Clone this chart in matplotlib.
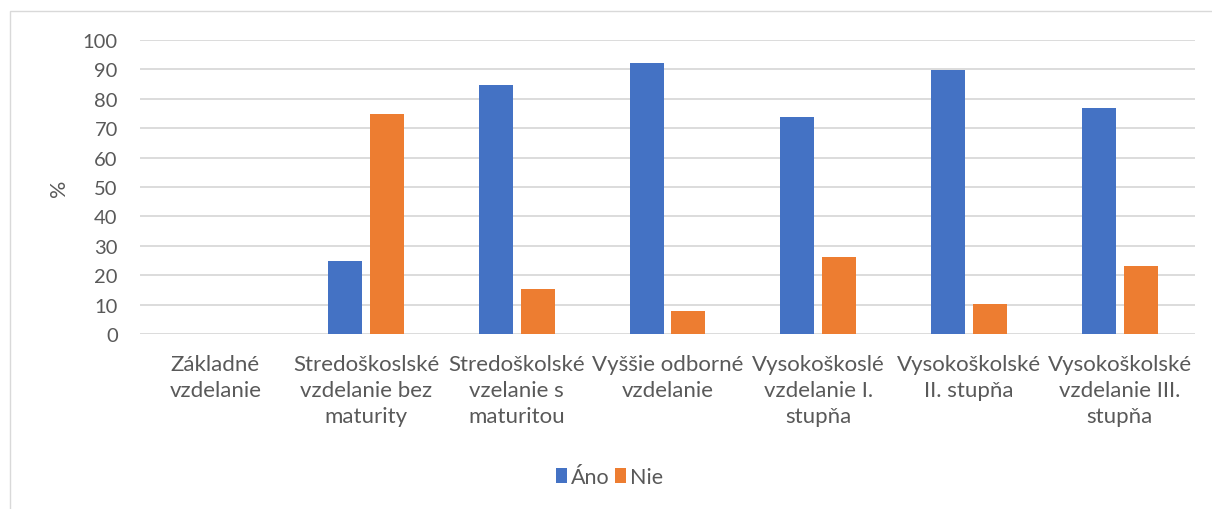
import matplotlib.pyplot as plt
from matplotlib.patches import Rectangle
import numpy as np

categories = ["Základné\nvzdelanie",
              "Stredoškoslské\nvzdelanie bez\nmaturity",
              "Stredoškolské\nvzelanie s\nmaturitou",
              "Vyššie odborné\nvzdelanie",
              "Vysokoškoslé\nvzdelanie I.\nstupňa",
              "Vysokoškolské\nII. stupňa",
              "Vysokoškolské\nvzdelanie III.\nstupňa"]
ano = [0, 25.0, 84.6, 92.3, 73.7, 89.7, 76.9]
nie = [0, 75.0, 15.4, 7.7, 26.3, 10.3, 23.1]
yticks = list(range(0, 101, 10))

plt.rcParams['font.family'] = ['Lato', 'DejaVu Sans']
txt = '#595959'

fig = plt.figure(figsize=(12.12, 5.1), dpi=100)
ax = fig.add_axes([0.1155, 0.343, 0.8705, 0.5766])

x = np.arange(len(categories))
ax.bar(x - 0.139, ano, 0.226, color='#4472C4', label='Áno', zorder=3)
ax.bar(x + 0.139, nie, 0.226, color='#ED7D31', label='Nie', zorder=3)

ax.set_xlim(-0.5, len(categories) - 0.5)
ax.set_ylim(0, 100)
ax.set_yticks(yticks)
ax.set_xticks(x)
ax.set_xticklabels(categories, fontsize=16, color=txt, linespacing=1.4)
ax.tick_params(axis='y', labelsize=14.5, labelcolor=txt, length=0, pad=16)
ax.tick_params(axis='x', length=0, pad=14)
ax.grid(axis='y', color='#d9d9d9', linewidth=1.3, zorder=0)
for s in ax.spines.values():
    s.set_visible(False)
ax.set_ylabel('%', fontsize=15.5, color=txt, labelpad=10)

ax.legend(loc='center', bbox_to_anchor=(0.503, 0.0625), bbox_transform=fig.transFigure,
          ncol=2, frameon=False, fontsize=15.5, labelcolor=txt,
          handlelength=0.5, handleheight=0.7, handletextpad=0.2, columnspacing=0.25)

fig.patches.append(Rectangle((10 / 1212, -0.01), 1.0, 1 - 12 / 510 + 0.01,
                             transform=fig.transFigure, fill=False,
                             edgecolor='#d9d9d9', linewidth=1))

fig.savefig('out.png', dpi=100)
